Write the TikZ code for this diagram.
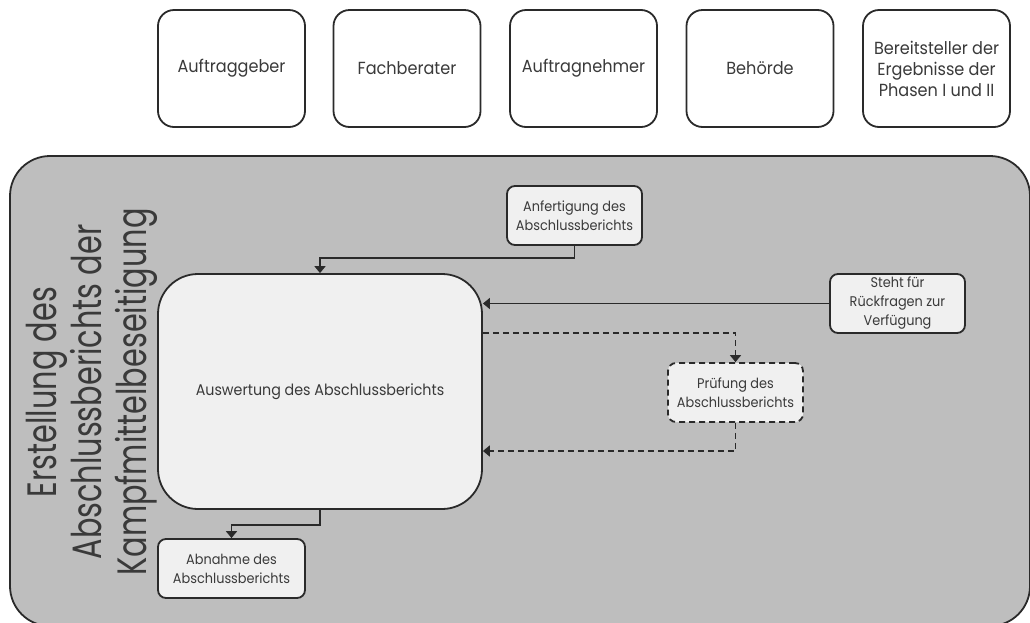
\documentclass[tikz,border=0pt]{standalone}
\usepackage{fontspec}
\setmainfont{Poppins}[FakeStretch=0.92]
\newfontfamily\titlefont{Poppins}[FakeStretch=0.74]
\usetikzlibrary{arrows.meta,calc}
\definecolor{panelgray}{HTML}{BEBEBE}
\definecolor{boxfill}{HTML}{F0F0F0}
\definecolor{ink}{HTML}{2A2A2A}
\definecolor{txt}{HTML}{3A3A3A}
\tikzset{
  actor/.style={draw=ink,line width=1.8pt,rounded corners=16pt,fill=white,
    minimum width=147pt,minimum height=117pt,inner sep=0pt,align=center,
    font=\fontsize{17.5}{21}\selectfont,text=txt},
  smallbox/.style={draw=ink,line width=1.8pt,rounded corners=8pt,fill=boxfill,
    minimum width=135pt,minimum height=59pt,inner sep=0pt,align=center,
    font=\fontsize{14}{19}\selectfont,text=txt},
  conn/.style={draw=ink,line width=1.8pt,-{Triangle[length=7pt,width=11pt]}},
  dashline/.style={dash pattern=on 6pt off 4pt},
}
\begin{document}
\begin{tikzpicture}[x=1pt,y=-1pt]
\useasboundingbox (0,0) rectangle (1030,622);
% actors
\node[actor] (ag) at (231.5,68.5) {Auftraggeber};
\node[actor] (fb) at (407,68.5) {Fachberater};
\node[actor] (an) at (583.5,68.5) {Auftragnehmer};
\node[actor] (bh) at (760,68.5) {Behörde};
\node[actor] (bs) at (936.5,68.5) {Bereitsteller der\\Ergebnisse der\\Phasen I und II};
% panel
\node[draw=ink,line width=1.8pt,fill=panelgray,rounded corners=40pt,
  minimum width=1020pt,minimum height=470pt,inner sep=0pt] (panel) at (520,391) {};
\node[rotate=90,align=center,text=txt,font=\titlefont\fontsize{41}{45}\selectfont] (title) at (92,392)
  {Erstellung des\\Abschlussberichts der\\Kampfmittelbeseitigung};
% main
\node[draw=ink,line width=1.8pt,fill=boxfill,rounded corners=40pt,
  minimum width=324pt,minimum height=235pt,inner sep=0pt,text=txt,
  font=\fontsize{15.5}{18}\selectfont] (main) at (320,391.5) {Auswertung des Abschlussberichts};
\node[smallbox] (anf) at (574.5,215.5) {Anfertigung des\\Abschlussberichts};
\node[smallbox] (steht) at (897.5,303.5) {Steht für\\Rückfragen zur\\Verfügung};
\node[smallbox,dashline] (pruef) at (735.5,392.5) {Prüfung des\\Abschlussberichts};
\node[smallbox,minimum width=147pt] (abn) at (231.5,568.5) {Abnahme des\\Abschlussberichts};
% connectors
\draw[conn] (anf.south) |- ([yshift=15pt]main.north) -- (main.north);
\draw[conn] (steht.west) -- (main.east |- steht.west);
\draw[conn,dashline] ($(main.east)+(0,-58.5)$) -| (pruef.north);
\draw[conn,dashline] (pruef.south) |- ($(main.east)+(0,59.5)$);
\draw[conn] (main.south) -- ++(0,15) -| (abn.north);
\end{tikzpicture}
\end{document}
